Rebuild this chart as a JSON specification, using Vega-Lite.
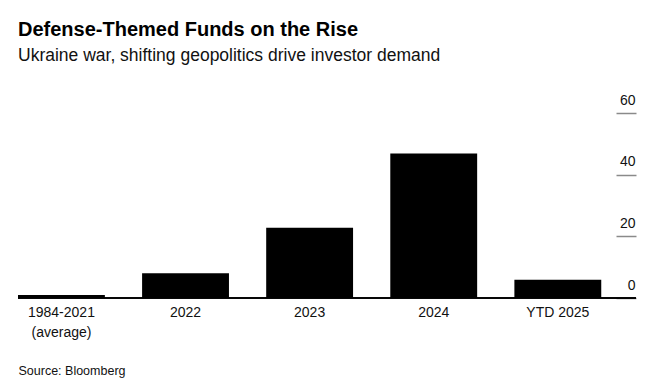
{
  "$schema": "https://vega.github.io/schema/vega-lite/v6.json",
  "width": 618,
  "height": 185,
  "autosize": {"type": "none"},
  "padding": {"left": 18, "top": 113, "right": 30, "bottom": 89},
  "background": "white",
  "title": {
    "text": "Defense-Themed Funds on the Rise",
    "subtitle": "Ukraine war, shifting geopolitics drive investor demand",
    "anchor": "start",
    "frame": "group",
    "offset": 29,
    "font": "Liberation Sans",
    "fontSize": 20,
    "fontWeight": "bold",
    "color": "#000000",
    "subtitleFont": "Liberation Sans",
    "subtitleFontSize": 17.5,
    "subtitleColor": "#111111",
    "subtitlePadding": 7
  },
  "config": {
    "view": {"stroke": null},
    "font": "Liberation Sans"
  },
  "data": {
    "values": [
      {"period": "1984-2021 (average)", "funds": 1.0},
      {"period": "2022", "funds": 8.0},
      {"period": "2023", "funds": 22.8},
      {"period": "2024", "funds": 46.9},
      {"period": "YTD 2025", "funds": 5.9}
    ]
  },
  "layer": [
    {
      "mark": {"type": "bar", "color": "#000000"},
      "encoding": {
        "x": {
          "field": "period",
          "type": "nominal",
          "sort": null,
          "scale": {"paddingInner": 0.3, "paddingOuter": 0.14, "align": 0},
          "axis": {
            "title": "Source: Bloomberg",
            "titleAnchor": "start",
            "titleAlign": "left",
            "titleFont": "Liberation Sans",
            "titleFontSize": 12.5,
            "titleFontWeight": "normal",
            "titleColor": "#111111",
            "titlePadding": 25,
            "domain": false,
            "ticks": false,
            "labelAngle": 0,
            "labelFont": "Liberation Sans",
            "labelFontSize": 14,
            "labelColor": "#111111",
            "labelPadding": 7,
            "labelLineHeight": 20,
            "labelExpr": "datum.value == '1984-2021 (average)' ? ['1984-2021', '(average)'] : datum.value"
          }
        },
        "y": {
          "field": "funds",
          "type": "quantitative",
          "scale": {"domain": [0, 60]},
          "axis": {
            "title": null,
            "orient": "right",
            "offset": -20,
            "values": [0, 20, 40, 60],
            "domain": false,
            "grid": false,
            "tickSize": 20,
            "tickColor": "#8a8a8a",
            "tickWidth": 1.5,
            "labelAlign": "right",
            "labelBaseline": "alphabetic",
            "labelOffset": -9,
            "labelPadding": -1,
            "labelFont": "Liberation Sans",
            "labelFontSize": 14,
            "labelColor": "#111111"
          }
        }
      }
    },
    {
      "mark": {"type": "rule", "color": "#000000", "strokeWidth": 1},
      "encoding": {"y": {"datum": 0}}
    }
  ]
}
